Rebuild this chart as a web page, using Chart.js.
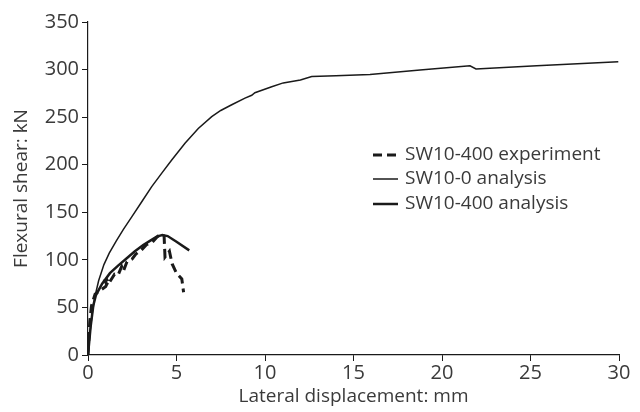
<!DOCTYPE html>
<html>
<head>
<meta charset="utf-8">
<script src="https://cdn.jsdelivr.net/npm/chart.js@4"></script>
<style>
html,body{margin:0;padding:0;background:#fff;}
#wrap{width:640px;height:412px;position:relative;}
</style>
</head>
<body>
<div id="wrap"><canvas id="c" width="640" height="412"></canvas></div>
<script>
// SW10-0 analysis (thin line)
const sw100X = [0, 0.1, 0.25, 0.4, 0.6, 0.9, 1.2, 1.6, 2.0, 2.5, 3.0, 3.6, 4.2, 4.73, 5.48, 6.23, 6.99, 7.5, 8.12, 8.87, 9.25, 9.43, 10.38, 11.03, 12.0, 12.64, 14.0, 15.93, 18.76, 21.58, 21.92, 25.35, 29.96];
const sw100Y = [0, 22, 45, 62, 78, 95, 107, 120, 132, 146, 160, 177, 192, 205, 222.5, 238, 250.5, 257, 263, 270, 273, 275.7, 282, 286, 289, 292.6, 293.5, 294.9, 299.6, 304, 300.6, 304, 308.3];
// SW10-400 analysis (thick line)
const sw400aX = [0, 0.15, 0.3, 0.45, 0.8, 1.24, 1.7, 2.19, 2.65, 3.12, 3.5, 3.88, 4.2, 4.5, 5.0, 5.72];
const sw400aY = [0, 30, 52, 63, 75, 86, 94, 101.6, 109, 115.6, 120, 124.4, 126, 125, 119, 110];
// SW10-400 experiment (dashed)
const sw400eX = [0, 0.1, 0.2, 0.4, 0.7, 1.0, 1.2, 0.95, 1.1, 1.5, 1.7, 1.9, 2.0, 2.2, 2.5, 2.7, 3.0, 3.3, 3.6, 3.9, 4.1, 4.3, 4.35, 4.6, 4.75, 5.0, 5.3, 5.4];
const sw400eY = [0, 35, 52, 64, 68, 72, 80, 78, 73, 85, 84, 93, 88, 98, 101, 106, 110, 116, 118, 124, 127, 125, 103, 109, 96, 86, 80, 66];

const xTicks = [0, 5, 10, 15, 20, 25, 30];
const yTicks = [0, 50, 100, 150, 200, 250, 300, 350];
const seriesNames = ['SW10-400 experiment', 'SW10-0 analysis', 'SW10-400 analysis'];

const pts = (xs, ys) => xs.map((x, i) => ({x: x, y: ys[i]}));
const FONT = "'Open Sans', sans-serif";
const TXT = '#3a3a3a';
const LINE = '#1a1a1a';

const legendPlugin = {
  id: 'customLegend',
  afterDraw(chart) {
    const ctx = chart.ctx;
    const items = chart.data.datasets;
    const x0 = 373, x1 = 398, tx = 405;
    const ys = [155, 179, 204];
    ctx.save();
    items.forEach((ds, i) => {
      ctx.beginPath();
      ctx.strokeStyle = ds.borderColor;
      ctx.lineWidth = ds.borderWidth;
      ctx.setLineDash(ds.borderDash || []);
      ctx.moveTo(x0, ys[i]);
      ctx.lineTo(x1, ys[i]);
      ctx.stroke();
      ctx.setLineDash([]);
      ctx.fillStyle = TXT;
      ctx.font = "19px " + FONT;
      ctx.textBaseline = 'middle';
      ctx.fillText(ds.label, tx, ys[i]);
    });
    ctx.restore();
  }
};

new Chart(document.getElementById('c'), {
  type: 'scatter',
  data: {
    datasets: [
      {label: seriesNames[0], data: pts(sw400eX, sw400eY), showLine: true, borderColor: LINE, borderWidth: 3, borderDash: [9, 5], pointRadius: 0, tension: 0},
      {label: seriesNames[1], data: pts(sw100X, sw100Y), showLine: true, borderColor: LINE, borderWidth: 1.5, pointRadius: 0, tension: 0},
      {label: seriesNames[2], data: pts(sw400aX, sw400aY), showLine: true, borderColor: LINE, borderWidth: 2.5, pointRadius: 0, tension: 0}
    ]
  },
  options: {
    responsive: false,
    animation: false,
    devicePixelRatio: 1,
    layout: {padding: {left: 10, top: 22, right: 21, bottom: 4}},
    plugins: {legend: {display: false}, tooltip: {enabled: false}},
    scales: {
      x: {
        type: 'linear', min: 0, max: 30,
        afterBuildTicks: s => { s.ticks = xTicks.map(v => ({value: v})); },
        afterFit: s => { s.height = 412 - 355 - 4; },
        grid: {display: true, drawOnChartArea: false, drawTicks: true, tickLength: 6, color: LINE},
        border: {display: true, color: LINE, width: 1.2},
        ticks: {color: TXT, font: {family: FONT, size: 20}, padding: 0, maxRotation: 0},
        title: {display: true, text: 'Lateral displacement: mm', color: TXT, font: {family: FONT, size: 19}, padding: {top: 0, bottom: 0}}
      },
      y: {
        type: 'linear', min: 0, max: 350,
        afterBuildTicks: s => { s.ticks = yTicks.map(v => ({value: v})); },
        afterFit: s => { s.width = 88 - 10; },
        grid: {display: true, drawOnChartArea: false, drawTicks: true, tickLength: 6, color: LINE},
        border: {display: true, color: LINE, width: 1.2},
        ticks: {color: TXT, font: {family: FONT, size: 20}, padding: 3},
        title: {display: true, text: 'Flexural shear: kN', color: TXT, font: {family: FONT, size: 19}, padding: {top: 0, bottom: 0}}
      }
    }
  },
  plugins: [legendPlugin]
});
</script>
</body>
</html>
